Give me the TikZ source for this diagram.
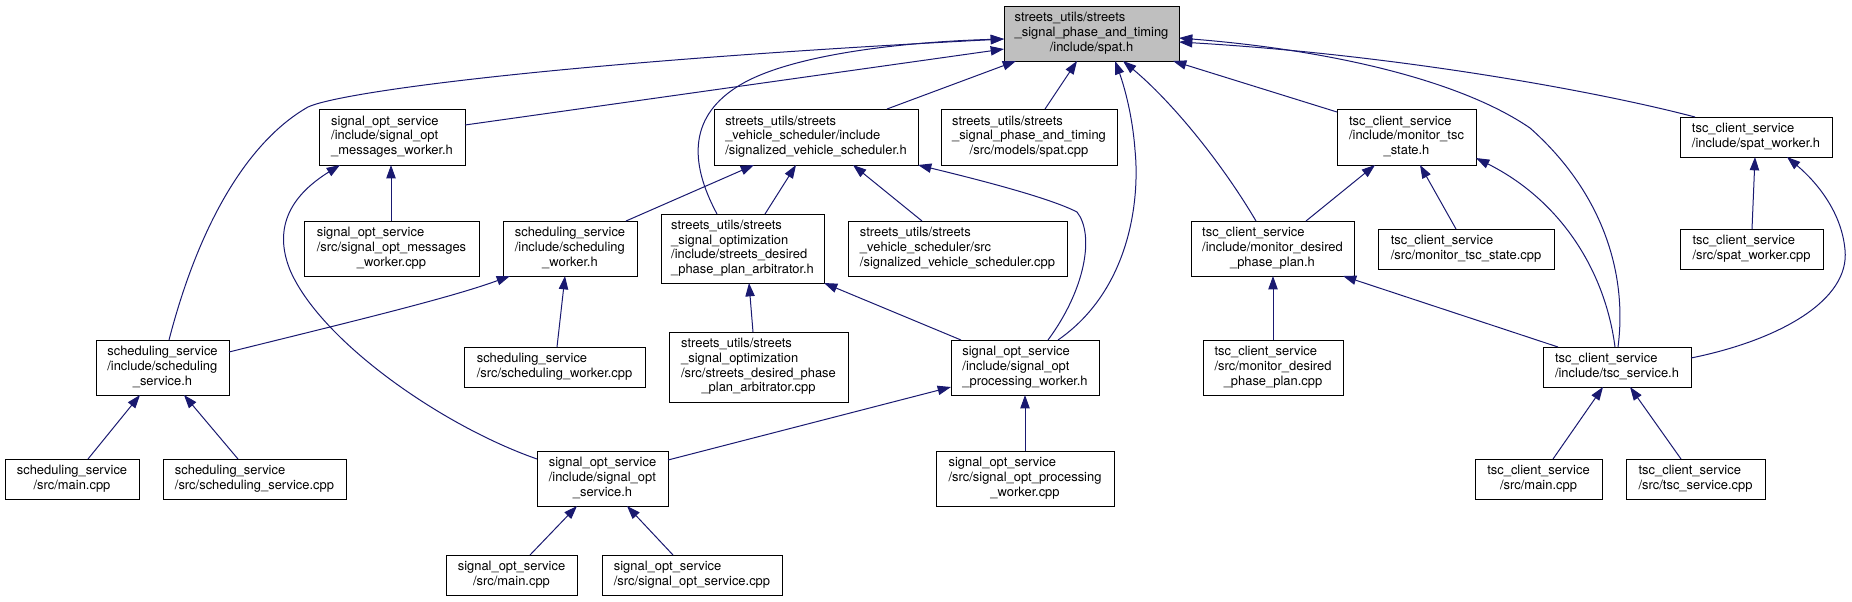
\documentclass[tikz,border=0pt]{standalone}
\usepackage{fontspec}
\setmainfont{TeX Gyre Heros}
\usetikzlibrary{arrows.meta,calc}
\definecolor{edgec}{HTML}{191970}
\definecolor{spatfill}{HTML}{BFBFBF}
\newcommand{\lastline}[1]{\multicolumn{1}{@{}c@{}}{#1}}
\tikzset{
  gbox/.style={draw=black, line width=0.75pt, fill=white, rectangle, inner sep=0pt, outer sep=0pt, font=\fontsize{9.7}{11}\selectfont},
  wd/.style={minimum width=#1*0.75pt},
  ht/.style={minimum height=#1*0.75pt},
  dep/.style={draw=edgec, line width=0.75pt, -{Triangle[length=10pt,width=7pt]}}
}
\begin{document}
\begin{tikzpicture}[x=0.75pt,y=-0.75pt]
\useasboundingbox (0,0) rectangle (1852,601);
% rank 0
\node[gbox, fill=spatfill, wd=175, ht=55] (spat) at (1091.5,33.5) {\begin{tabular}{@{}l@{}}streets\_utils/streets\\\_signal\_phase\_and\_timing\\\lastline{/include/spat.h}\end{tabular}};
% rank 1
\node[gbox, wd=146, ht=56] (msgw) at (392,137) {\begin{tabular}{@{}l@{}}signal\_opt\_service\\/include/signal\_opt\\\lastline{\_messages\_worker.h}\end{tabular}};
\node[gbox, wd=204, ht=56] (svs) at (816,137) {\begin{tabular}{@{}l@{}}streets\_utils/streets\\\_vehicle\_scheduler/include\\\lastline{/signalized\_vehicle\_scheduler.h}\end{tabular}};
\node[gbox, wd=176, ht=56] (spatcpp) at (1029,137) {\begin{tabular}{@{}l@{}}streets\_utils/streets\\\_signal\_phase\_and\_timing\\\lastline{/src/models/spat.cpp}\end{tabular}};
\node[gbox, wd=139, ht=56] (mts) at (1406.5,137) {\begin{tabular}{@{}l@{}}tsc\_client\_service\\/include/monitor\_tsc\\\lastline{\_state.h}\end{tabular}};
\node[gbox, wd=152, ht=40] (swh) at (1756,137) {\begin{tabular}{@{}l@{}}tsc\_client\_service\\\lastline{/include/spat\_worker.h}\end{tabular}};
% rank 2
\node[gbox, wd=175, ht=55] (msgcpp) at (391.5,248.5) {\begin{tabular}{@{}l@{}}signal\_opt\_service\\/src/signal\_opt\_messages\\\lastline{\_worker.cpp}\end{tabular}};
\node[gbox, wd=134, ht=55] (schw) at (570,248.5) {\begin{tabular}{@{}l@{}}scheduling\_service\\/include/scheduling\\\lastline{\_worker.h}\end{tabular}};
\node[gbox, wd=163, ht=69] (arb) at (742.5,248.5) {\begin{tabular}{@{}l@{}}streets\_utils/streets\\\_signal\_optimization\\/include/streets\_desired\\\lastline{\_phase\_plan\_arbitrator.h}\end{tabular}};
\node[gbox, wd=219, ht=55] (svscpp) at (957.5,248.5) {\begin{tabular}{@{}l@{}}streets\_utils/streets\\\_vehicle\_scheduler/src\\\lastline{/signalized\_vehicle\_scheduler.cpp}\end{tabular}};
\node[gbox, wd=163, ht=55] (mdp) at (1272.5,248.5) {\begin{tabular}{@{}l@{}}tsc\_client\_service\\/include/monitor\_desired\\\lastline{\_phase\_plan.h}\end{tabular}};
\node[gbox, wd=176, ht=40] (mtscpp) at (1466,249) {\begin{tabular}{@{}l@{}}tsc\_client\_service\\\lastline{/src/monitor\_tsc\_state.cpp}\end{tabular}};
\node[gbox, wd=143, ht=40] (swcpp) at (1751.5,249) {\begin{tabular}{@{}l@{}}tsc\_client\_service\\\lastline{/src/spat\_worker.cpp}\end{tabular}};
% rank 3
\node[gbox, wd=133, ht=55] (ssh) at (162.5,367.5) {\begin{tabular}{@{}l@{}}scheduling\_service\\/include/scheduling\\\lastline{\_service.h}\end{tabular}};
\node[gbox, wd=181, ht=40] (schwcpp) at (554.5,367) {\begin{tabular}{@{}l@{}}scheduling\_service\\\lastline{/src/scheduling\_worker.cpp}\end{tabular}};
\node[gbox, wd=179, ht=70] (arbcpp) at (758.5,367) {\begin{tabular}{@{}l@{}}streets\_utils/streets\\\_signal\_optimization\\/src/streets\_desired\_phase\\\lastline{\_plan\_arbitrator.cpp}\end{tabular}};
\node[gbox, wd=148, ht=55] (pwh) at (1025,367.5) {\begin{tabular}{@{}l@{}}signal\_opt\_service\\/include/signal\_opt\\\lastline{\_processing\_worker.h}\end{tabular}};
\node[gbox, wd=140, ht=55] (mdpcpp) at (1273,367.5) {\begin{tabular}{@{}l@{}}tsc\_client\_service\\/src/monitor\_desired\\\lastline{\_phase\_plan.cpp}\end{tabular}};
\node[gbox, wd=148, ht=40] (tsh) at (1617,367) {\begin{tabular}{@{}l@{}}tsc\_client\_service\\\lastline{/include/tsc\_service.h}\end{tabular}};
% rank 4
\node[gbox, wd=134, ht=40] (smain) at (72,479) {\begin{tabular}{@{}l@{}}scheduling\_service\\\lastline{/src/main.cpp}\end{tabular}};
\node[gbox, wd=183, ht=40] (sscpp) at (254.5,479) {\begin{tabular}{@{}l@{}}scheduling\_service\\\lastline{/src/scheduling\_service.cpp}\end{tabular}};
\node[gbox, wd=131, ht=55] (sos) at (602.5,478.5) {\begin{tabular}{@{}l@{}}signal\_opt\_service\\/include/signal\_opt\\\lastline{\_service.h}\end{tabular}};
\node[gbox, wd=178, ht=55] (pwcpp) at (1025,478.5) {\begin{tabular}{@{}l@{}}signal\_opt\_service\\/src/signal\_opt\_processing\\\lastline{\_worker.cpp}\end{tabular}};
\node[gbox, wd=127, ht=40] (tmain) at (1538.5,479) {\begin{tabular}{@{}l@{}}tsc\_client\_service\\\lastline{/src/main.cpp}\end{tabular}};
\node[gbox, wd=139, ht=40] (tscpp) at (1695.5,479) {\begin{tabular}{@{}l@{}}tsc\_client\_service\\\lastline{/src/tsc\_service.cpp}\end{tabular}};
% rank 5
\node[gbox, wd=131, ht=40] (somain) at (511.5,575) {\begin{tabular}{@{}l@{}}signal\_opt\_service\\\lastline{/src/main.cpp}\end{tabular}};
\node[gbox, wd=180, ht=40] (socpp) at (692,575) {\begin{tabular}{@{}l@{}}signal\_opt\_service\\\lastline{/src/signal\_opt\_service.cpp}\end{tabular}};
% edges to spat.h
\draw[dep] ($(msgw.north east)+(0,16)$) -- ($(spat.north west)+(0,43)$);
\draw[dep] ($(ssh.north west)+(73,0)$) .. controls (200,220) and (250,140) .. (308,107) .. controls (340,92) and (560,62) .. ($(spat.north west)+(0,33)$);
\draw[dep] ($(arb.north west)+(56,0)$) .. controls (688,160) and (690,115) .. (740,85) .. controls (790,55) and (900,42) .. ($(spat.north west)+(0,33)$);
\draw[dep] ($(svs.north west)+(173,0)$) -- ($(spat.south west)+(12,0)$);
\draw[dep] ($(spatcpp.north west)+(104,0)$) -- ($(spat.south west)+(73,0)$);
\draw[dep] ($(pwh.north west)+(107,0)$) .. controls (1130,290) and (1140,200) .. (1135,150) .. controls (1132,110) and (1122,80) .. ($(spat.south west)+(111,0)$);
\draw[dep] ($(mdp.north west)+(65,0)$) .. controls (1220,160) and (1170,100) .. ($(spat.south west)+(119,0)$);
\draw[dep] ($(mts.north west)+(0,3)$) -- ($(spat.south east)+(-6,0)$);
\draw[dep] ($(tsh.north west)+(75,0)$) .. controls (1628,270) and (1600,190) .. (1530,128) .. controls (1460,80) and (1330,50) .. ($(spat.north east)+(0,32)$);
\draw[dep] ($(swh.north west)+(15,0)$) .. controls (1600,92) and (1400,55) .. ($(spat.north east)+(0,36)$);
% edges to signalized_vehicle_scheduler.h
\draw[dep] ($(schw.north east)+(-11,0)$) -- ($(svs.south west)+(40,0)$);
\draw[dep] ($(arb.north west)+(104,0)$) -- ($(svs.south west)+(82,0)$);
\draw[dep] ($(svscpp.north west)+(74,0)$) -- ($(svs.south west)+(139,0)$);
\draw[dep] ($(pwh.north west)+(97,0)$) .. controls (1085,290) and (1095,235) .. (1077,212) .. controls (1050,198) and (980,180) .. (svs.south east);
% edges to signal_opt_messages_worker.h
\draw[dep] ($(msgcpp.north west)+(87,0)$) -- ($(msgw.south west)+(72,0)$);
\draw[dep] ($(sos.north west)+(0,8)$) .. controls (440,425) and (320,340) .. (290,270) .. controls (270,220) and (300,190) .. ($(msgw.south west)+(21,0)$);
% edges to scheduling_worker.h
\draw[dep] ($(ssh.north east)+(0,12)$) .. controls (350,322) and (450,298) .. ($(schw.south west)+(7,0)$);
\draw[dep] ($(schwcpp.north west)+(93,0)$) -- ($(schw.south west)+(62,0)$);
% edges to arbitrator.h
\draw[dep] ($(arbcpp.north west)+(84,0)$) -- ($(arb.south west)+(88,0)$);
\draw[dep] ($(pwh.north west)+(10,0)$) -- (arb.south east);
% edges to scheduling_service.h
\draw[dep] ($(smain.north west)+(83,0)$) -- ($(ssh.south west)+(44,0)$);
\draw[dep] ($(sscpp.north west)+(75,0)$) -- ($(ssh.south west)+(88,0)$);
% edges to processing_worker.h
\draw[dep] ($(pwcpp.north west)+(89,0)$) -- ($(pwh.south west)+(74,0)$);
\draw[dep] ($(sos.north east)+(0,9)$) -- ($(pwh.south west)+(0,-8)$);
% edges to signal_opt_service.h
\draw[dep] ($(somain.north west)+(84,0)$) -- ($(sos.south west)+(40,0)$);
\draw[dep] ($(socpp.north west)+(71,0)$) -- ($(sos.south west)+(90,0)$);
% edges to monitor_tsc_state.h
\draw[dep] ($(mdp.north west)+(115,0)$) -- ($(mts.south west)+(38,0)$);
\draw[dep] ($(mtscpp.north west)+(78,0)$) -- ($(mts.south west)+(83,0)$);
\draw[dep] ($(tsh.north west)+(72,0)$) .. controls (1605,270) and (1560,200) .. ($(mts.south east)+(0,-7)$);
% edges to monitor_desired_phase_plan.h
\draw[dep] ($(mdpcpp.north west)+(70,0)$) -- ($(mdp.south west)+(82,0)$);
\draw[dep] ($(tsh.north west)+(15,0)$) -- ($(mdp.south east)+(-11,0)$);
% edges to spat_worker.h
\draw[dep] ($(swcpp.north west)+(72,0)$) -- ($(swh.south west)+(75,0)$);
\draw[dep] ($(tsh.north east)+(0,11)$) .. controls (1780,340) and (1850,300) .. (1845,250) .. controls (1842,215) and (1820,185) .. ($(swh.south west)+(107,0)$);
% edges to tsc_service.h
\draw[dep] ($(tmain.north west)+(78,0)$) -- ($(tsh.south west)+(60,0)$);
\draw[dep] ($(tscpp.north west)+(55,0)$) -- ($(tsh.south west)+(87,0)$);
\end{tikzpicture}
\end{document}
